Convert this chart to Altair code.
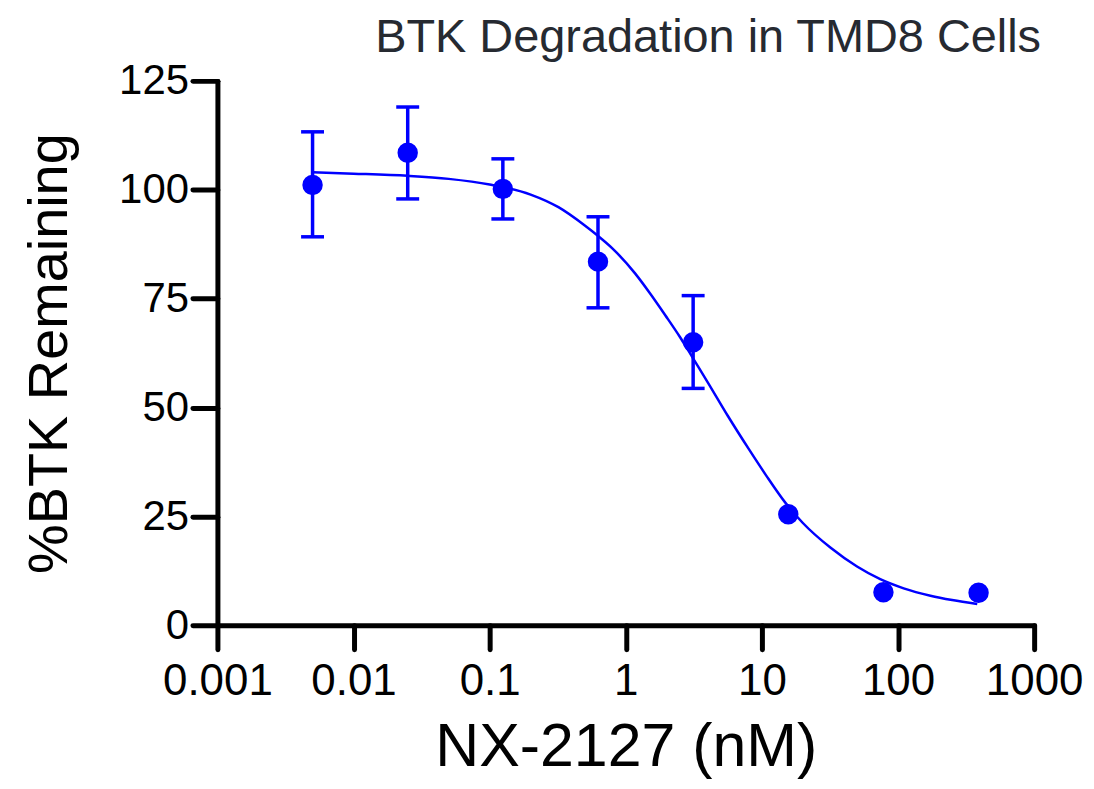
import altair as alt
import pandas as pd

# Measured data (5-fold dilutions, nM)
conc = [0.005, 0.025, 0.125, 0.625, 3.125, 15.625, 78.125, 390.625]
pct_btk = [101.1, 108.5, 100.2, 83.5, 65.0, 25.5, 7.6, 7.5]
err_low = [89.2, 97.9, 93.3, 72.9, 54.4, None, None, None]
err_high = [113.3, 119.0, 107.1, 93.8, 75.7, None, None, None]

# Fitted curve
curve_x = [0.005, 0.01, 0.025, 0.05, 0.1, 0.2, 0.32, 0.5, 0.62, 0.8, 1.17, 1.5,
           1.95, 2.5, 3.12, 4.0, 5.64, 8.0, 10.7, 15.0, 20.0, 32.0, 50.0, 74.0,
           110.0, 173.0, 250.0, 382.0]
curve_y = [104.0, 103.7, 103.2, 102.5, 101.2, 98.9, 96.0, 91.8, 89.5, 86.5, 80.8, 76.3,
           71.2, 66.2, 61.3, 55.8, 48.0, 40.5, 34.5, 28.0, 23.5, 17.8, 13.5, 10.6,
           8.5, 6.8, 5.8, 4.9]

x_ticks = [0.001, 0.01, 0.1, 1, 10, 100, 1000]
y_ticks = [0, 25, 50, 75, 100, 125]

BLUE = "#0000FF"
FONT = "Liberation Sans"

pts = pd.DataFrame({"conc": conc, "pct": pct_btk, "lo": err_low, "hi": err_high})
err = pts.dropna()
curve = pd.DataFrame({"conc": curve_x, "pct": curve_y})

xscale = alt.Scale(type="log", domain=[0.001, 1000], nice=False)
yscale = alt.Scale(domain=[0, 125], nice=False, zero=False)

xaxis = alt.Axis(values=x_ticks, format="~g", title="NX-2127 (nM)", grid=False,
                 domainWidth=5, domainColor="black", domainCap="round",
                 tickWidth=5, tickSize=24, tickColor="black", tickCap="round",
                 labelFont=FONT, labelFontSize=44, labelColor="black", labelPadding=10,
                 titleFont=FONT, titleFontSize=61, titleFontWeight="normal",
                 titleColor="black", titlePadding=15, labelFlush=False)
yaxis = alt.Axis(values=y_ticks, title="%BTK Remaining", grid=False,
                 domainWidth=5, domainColor="black", domainCap="round",
                 tickWidth=5, tickSize=25, tickColor="black", tickCap="round",
                 labelFont=FONT, labelFontSize=42, labelColor="black", labelPadding=4,
                 titleFont=FONT, titleFontSize=56, titleFontWeight="normal",
                 titleColor="black", titlePadding=40, labelFlush=False)

line = alt.Chart(curve).mark_line(color=BLUE, strokeWidth=2.5, interpolate="monotone").encode(
    x=alt.X("conc:Q", scale=xscale, axis=xaxis),
    y=alt.Y("pct:Q", scale=yscale, axis=yaxis),
)

stems = alt.Chart(err).mark_rule(color=BLUE, strokeWidth=3.5).encode(
    x=alt.X("conc:Q", scale=xscale),
    y=alt.Y("lo:Q", scale=yscale),
    y2="hi:Q",
)

caps_lo = alt.Chart(err).mark_tick(color=BLUE, orient="horizontal", size=23,
                                   thickness=3.5, opacity=1).encode(
    x=alt.X("conc:Q", scale=xscale),
    y=alt.Y("lo:Q", scale=yscale),
)
caps_hi = alt.Chart(err).mark_tick(color=BLUE, orient="horizontal", size=23,
                                   thickness=3.5, opacity=1).encode(
    x=alt.X("conc:Q", scale=xscale),
    y=alt.Y("hi:Q", scale=yscale),
)

dots = alt.Chart(pts).mark_circle(color=BLUE, size=420, opacity=1).encode(
    x=alt.X("conc:Q", scale=xscale),
    y=alt.Y("pct:Q", scale=yscale),
)

chart = alt.layer(line, stems, caps_lo, caps_hi, dots).properties(
    width=819, height=546,
    title=alt.TitleParams("BTK Degradation in TMD8 Cells", anchor="end", font=FONT,
                          fontSize=47, fontWeight="normal", color="#262a31",
                          offset=-2, dx=-42),
    autosize=alt.AutoSizeParams(type="none"),
    padding={"left": 210, "top": 72, "right": 52, "bottom": 155},
).configure_view(stroke=None)

chart.save("out.html", embed_options={"renderer": "svg", "actions": False})
